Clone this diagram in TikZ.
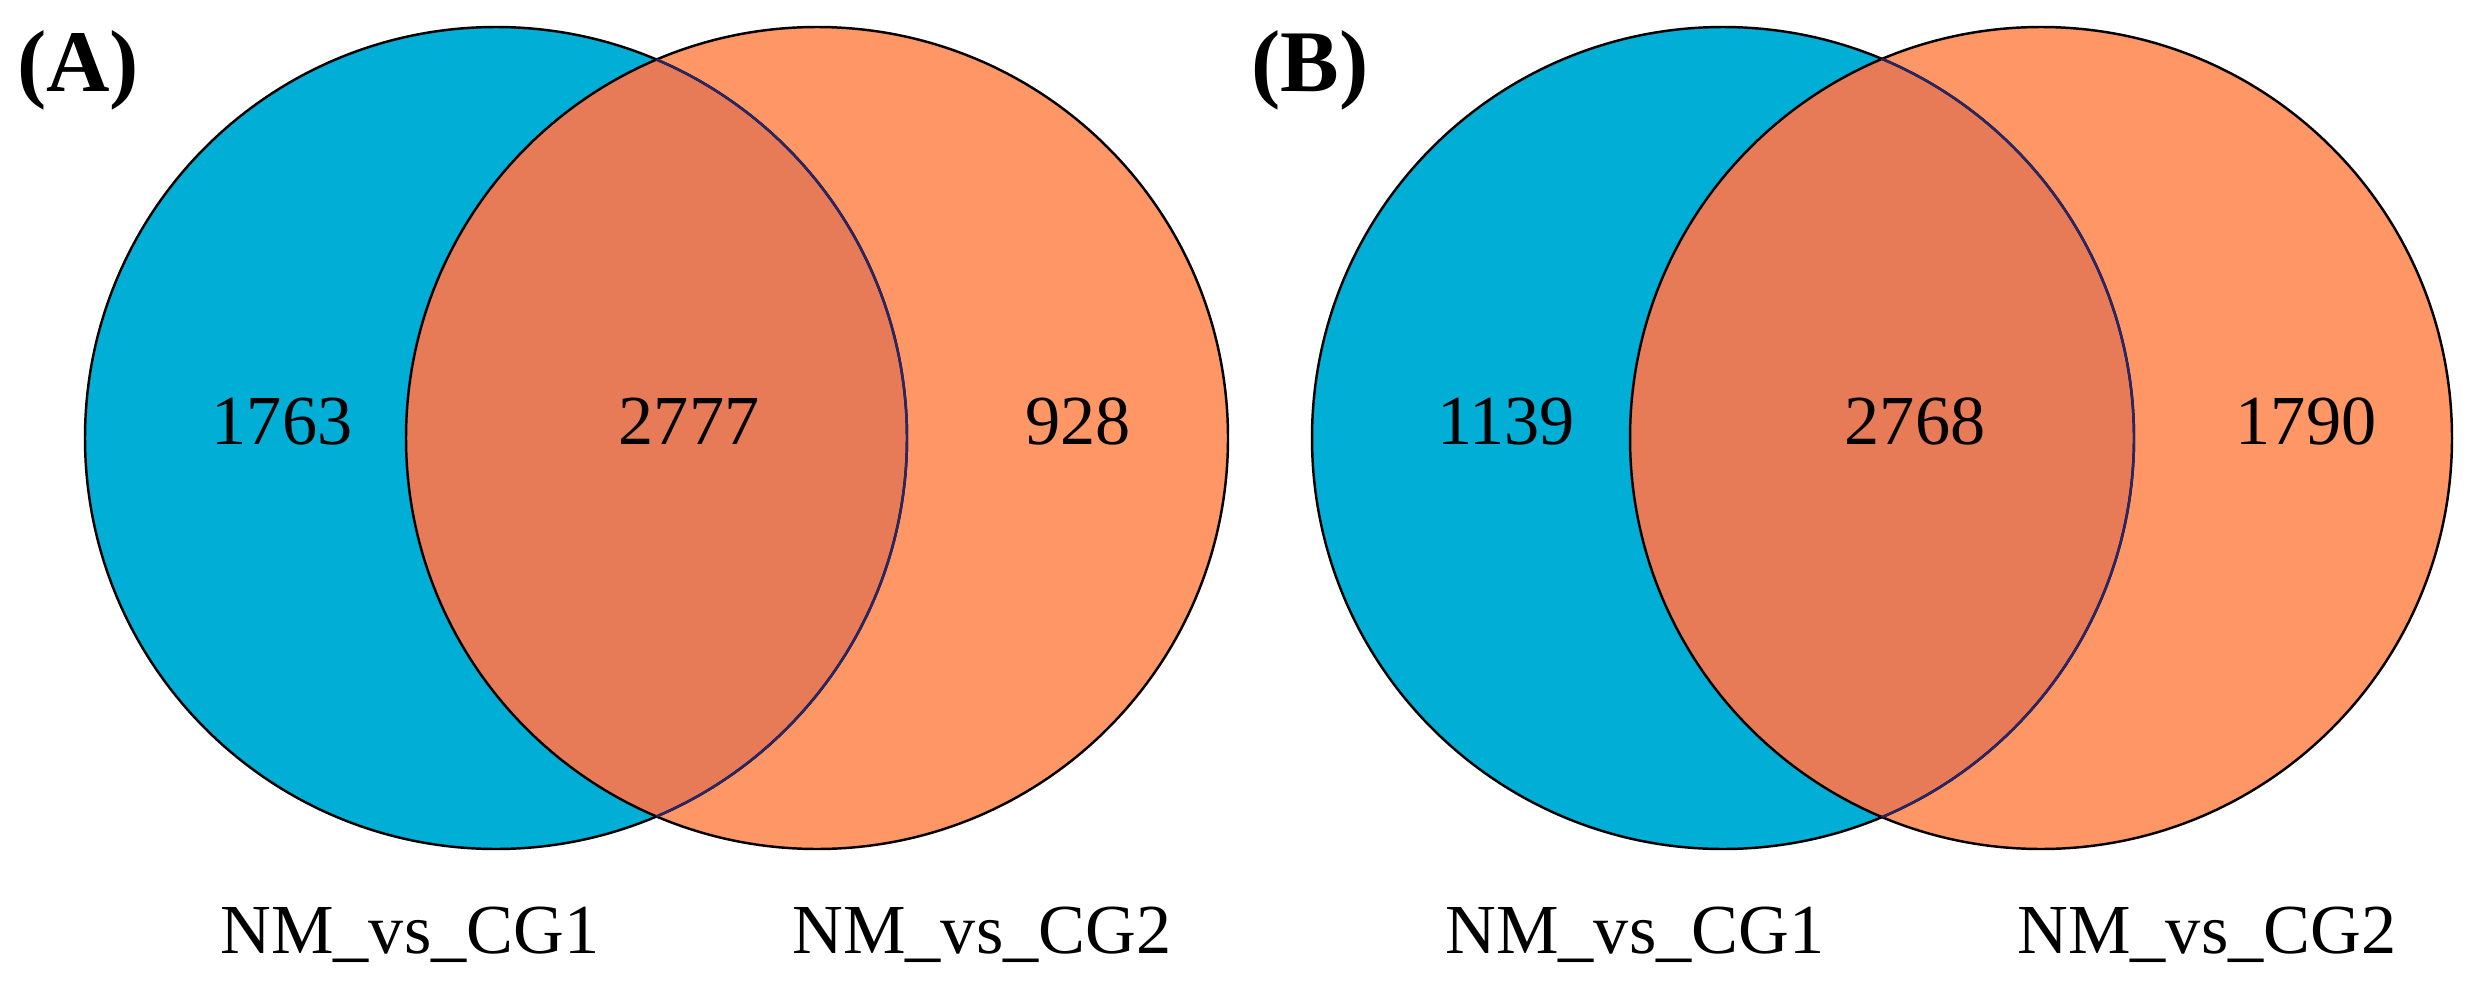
\documentclass[tikz,border=0pt]{standalone}
\usepackage{fontspec}
\setmainfont{Liberation Serif}
\usepackage{tikz}
\definecolor{setblue}{RGB}{0,174,214}
\definecolor{setorange}{RGB}{255,150,102}
\definecolor{setboth}{RGB}{231,123,87}
\definecolor{setrim}{RGB}{40,38,100}
\tikzset{count node/.style={anchor=base,inner sep=0pt,font=\fontsize{20}{24}\selectfont},
  set label/.style={anchor=base,inner sep=0pt,font=\fontsize{20}{24}\selectfont},
  panel label/.style={anchor=base,inner sep=0pt,font=\fontsize{25}{30}\selectfont\bfseries},
  set rim/.style={draw=black,line width=0.7pt}}

\begin{document}
\begin{tikzpicture}[x=0.1mm,y=-0.1mm]
\useasboundingbox (0,0) rectangle (2471,995);

% panel A
\coordinate (A1) at (496,438);
\coordinate (A2) at (817,438);
\fill[setblue] (A1) circle[radius=41.1mm];
\fill[setorange] (A2) circle[radius=41.1mm];
\begin{scope}
  \clip (A1) circle[radius=41.1mm];
  \fill[setboth] (A2) circle[radius=41.1mm];
\end{scope}
\draw[set rim] (A1) circle[radius=41.1mm];
\draw[set rim] (A2) circle[radius=41.1mm];
\begin{scope}
  \clip (A2) circle[radius=41.1mm];
  \draw[set rim,draw=setrim] (A1) circle[radius=41.1mm];
\end{scope}
\node[panel label] (panelA) at (78,91) {(A)};
\node[count node] (onlyA1) at (282,444) {1763};
\node[count node] (bothA) at (689,444) {2777};
\node[count node] (onlyA2) at (1078,444) {928};
\node[set label] (labA1) at (410,953) {NM\_vs\_CG1};
\node[set label] (labA2) at (982,953) {NM\_vs\_CG2};

% panel B
\coordinate (B1) at (1723,438);
\coordinate (B2) at (2041,438);
\fill[setblue] (B1) circle[radius=41.1mm];
\fill[setorange] (B2) circle[radius=41.1mm];
\begin{scope}
  \clip (B1) circle[radius=41.1mm];
  \fill[setboth] (B2) circle[radius=41.1mm];
\end{scope}
\draw[set rim] (B1) circle[radius=41.1mm];
\draw[set rim] (B2) circle[radius=41.1mm];
\begin{scope}
  \clip (B2) circle[radius=41.1mm];
  \draw[set rim,draw=setrim] (B1) circle[radius=41.1mm];
\end{scope}
\node[panel label] (panelB) at (1310,91) {(B)};
\node[count node] (onlyB1) at (1506,444) {1139};
\node[count node] (bothB) at (1915,444) {2768};
\node[count node] (onlyB2) at (2306,444) {1790};
\node[set label] (labB1) at (1635,953) {NM\_vs\_CG1};
\node[set label] (labB2) at (2207,953) {NM\_vs\_CG2};
\end{tikzpicture}
\end{document}
